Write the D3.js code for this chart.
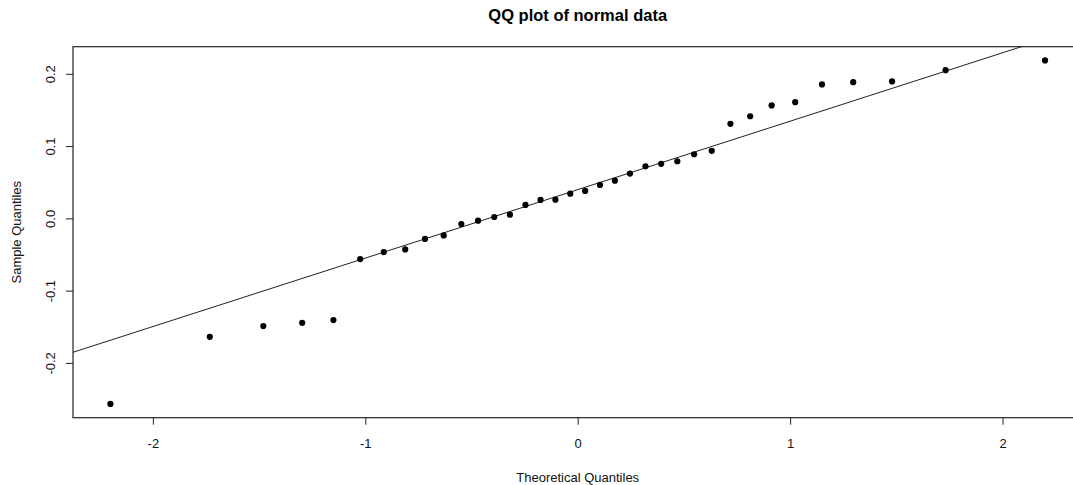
<!DOCTYPE html>
<html>
<head>
<meta charset="utf-8">
<script src="https://cdn.jsdelivr.net/npm/d3@7"></script>
<style>
  body { margin: 0; background: #fff; }
  svg { display: block; font-family: "Liberation Sans", Arial, sans-serif; }
</style>
</head>
<body>
<div id="chart"></div>
<script>
// theoretical quantiles (x) and sample quantiles (y)
const theoretical = [
  -2.200, -1.732, -1.480, -1.297, -1.150, -1.024, -0.913, -0.812, -0.719,
  -0.631, -0.548, -0.469, -0.393, -0.319, -0.246, -0.175, -0.105, -0.035,
   0.035,  0.105,  0.175,  0.246,  0.319,  0.393,  0.469,  0.548,  0.631,
   0.719,  0.812,  0.913,  1.024,  1.150,  1.297,  1.480,  1.732,  2.200
];
const sample = [
  -0.2568, -0.1639, -0.1491, -0.1445, -0.1408, -0.0563, -0.0466, -0.0430, -0.0285,
  -0.0236, -0.0078, -0.0032,  0.0019,  0.0051,  0.0186,  0.0255,  0.0258,  0.0342,
   0.0380,  0.0463,  0.0522,  0.0619,  0.0721,  0.0754,  0.0790,  0.0887,  0.0934,
   0.1308,  0.1413,  0.1562,  0.1607,  0.1853,  0.1884,  0.1894,  0.2051,  0.2185
];
// reference line (qqline)
const lineIntercept = 0.0397;
const lineSlope = 0.0947;

const xTicks = [-2, -1, 0, 1, 2];
const yTicks = [-0.2, -0.1, 0.0, 0.1, 0.2];

const titleText = "QQ plot of normal data";
const xLabel = "Theoretical Quantiles";
const yLabel = "Sample Quantiles";

const width = 1073, height = 485;
const plot = {x1: 73, y1: 46.7, x2: 1082.4, y2: 417.7};

// R style 4% padding on the data range
function padded(arr){
  const e = d3.extent(arr), p = (e[1]-e[0])*0.04;
  return [e[0]-p, e[1]+p];
}

const x = d3.scaleLinear().domain(padded(theoretical)).range([plot.x1, plot.x2]);
const y = d3.scaleLinear().domain(padded(sample)).range([plot.y2, plot.y1]);

const svg = d3.select("#chart").append("svg")
              .attr("width", width)
              .attr("height", height)
              .attr("viewBox", "0 0 "+width+" "+height);

svg.append("defs").append("clipPath").attr("id", "plotClip")
   .append("rect")
   .attr("x", plot.x1).attr("y", plot.y1)
   .attr("width", plot.x2 - plot.x1)
   .attr("height", plot.y2 - plot.y1);

// === axes (plain hyphen minus, like R)
const xAxis = d3.axisBottom(x).tickValues(xTicks).tickSize(7).tickFormat(d => d.toFixed(0));
const yAxis = d3.axisLeft(y).tickValues(yTicks).tickSize(7).tickFormat(d => d.toFixed(1));

const gx = svg.append("g")
              .attr("transform", "translate(0,"+plot.y2+")")
              .call(xAxis);
gx.select(".domain").remove();
gx.selectAll(".tick line").attr("stroke", "#222");
gx.selectAll(".tick text")
  .attr("y", 30.5).attr("dy", 0)
  .attr("fill", "#111")
  .style("font-size", "13px")
  .style("font-family", "'Liberation Sans', Arial, sans-serif");

const gy = svg.append("g")
              .attr("transform", "translate("+plot.x1+",0)")
              .call(yAxis);
gy.select(".domain").remove();
gy.selectAll(".tick line").attr("stroke", "#222");
gy.selectAll(".tick text")
  .attr("x", 0).attr("y", -18).attr("dy", 0)
  .attr("transform", "rotate(-90)")
  .attr("text-anchor", "middle")
  .attr("fill", "#111")
  .style("font-size", "13px")
  .style("font-family", "'Liberation Sans', Arial, sans-serif");

// === box
svg.append("rect")
   .attr("x", plot.x1).attr("y", plot.y1)
   .attr("width", plot.x2 - plot.x1)
   .attr("height", plot.y2 - plot.y1)
   .attr("fill", "none")
   .attr("stroke", "#222")
   .attr("stroke-width", 1.2);

// === reference line
const xd = x.domain();
svg.append("g").attr("clip-path", "url(#plotClip)")
   .append("line")
   .attr("x1", x(xd[0])).attr("y1", y(lineIntercept + lineSlope*xd[0]))
   .attr("x2", x(xd[1])).attr("y2", y(lineIntercept + lineSlope*xd[1]))
   .attr("stroke", "#222")
   .attr("stroke-width", 1);

// === points
svg.append("g")
   .selectAll("circle")
   .data(theoretical.map((t, i) => ({t: t, s: sample[i]})))
   .join("circle")
   .attr("cx", d => x(d.t))
   .attr("cy", d => y(d.s))
   .attr("r", 3.1)
   .attr("fill", "#000");

// === labels
svg.append("text")
   .attr("x", (plot.x1 + plot.x2)/2)
   .attr("y", 20.5)
   .attr("text-anchor", "middle")
   .style("font-size", "16.5px")
   .style("font-weight", "bold")
   .text(titleText);

svg.append("text")
   .attr("x", (plot.x1 + plot.x2)/2)
   .attr("y", 482)
   .attr("text-anchor", "middle")
   .style("font-size", "13px")
   .attr("fill", "#111")
   .text(xLabel);

svg.append("text")
   .attr("transform", "translate(20.5,"+((plot.y1 + plot.y2)/2)+") rotate(-90)")
   .attr("text-anchor", "middle")
   .style("font-size", "13px")
   .attr("fill", "#111")
   .text(yLabel);
</script>
</body>
</html>
